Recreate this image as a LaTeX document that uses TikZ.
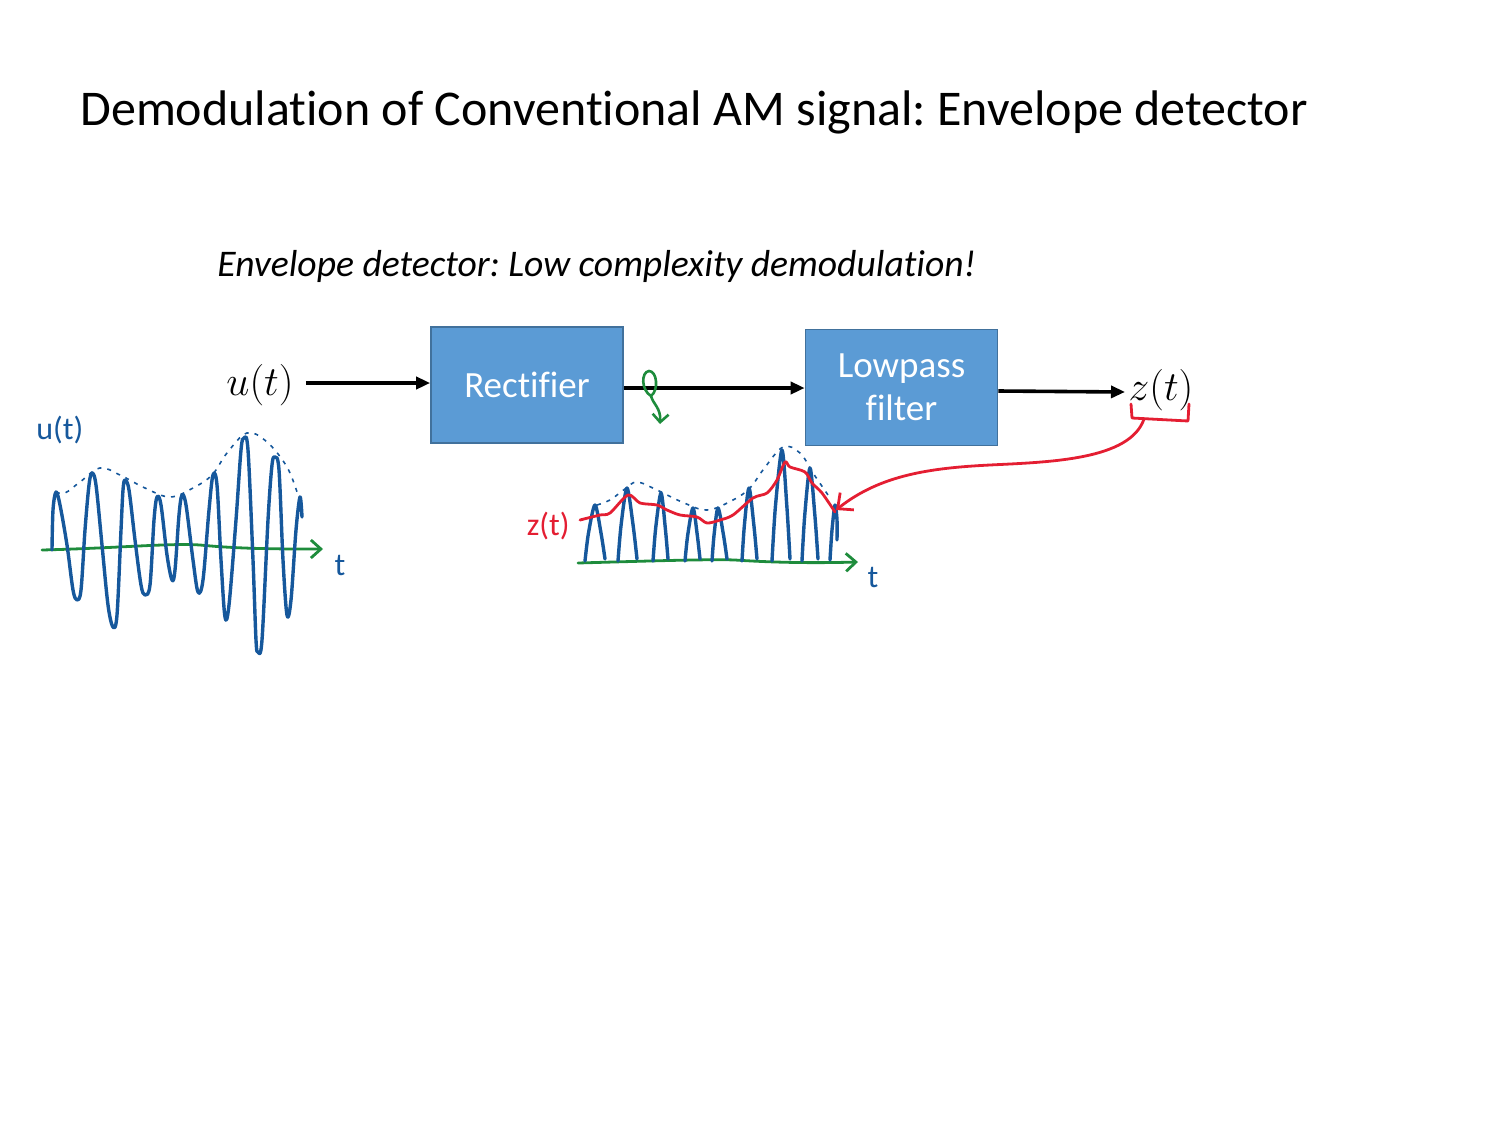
\documentclass[tikz,border=0pt]{standalone}
\usepackage{fontspec}
\setmainfont[Ligatures=CommonOff]{Carlito}
\usetikzlibrary{arrows.meta}
\definecolor{boxfill}{RGB}{91,155,213}
\definecolor{boxline}{RGB}{65,113,156}
\definecolor{wave}{RGB}{22,88,156}
\definecolor{axisg}{RGB}{30,140,60}
\definecolor{penred}{RGB}{228,30,50}
\tikzset{
  blockbox/.style={draw=boxline, line width=0.8pt, fill=boxfill, text=white, minimum width=96pt, minimum height=58pt, inner sep=0pt, align=center, font=\fontsize{18.5}{21.5}\selectfont},
  sigarrow/.style={line width=1.8pt, -{Triangle[length=7pt,width=6pt]}},
  wavepen/.style={wave, line width=1.7pt, line join=round, line cap=round},
  envpen/.style={wave, line width=0.8pt, dash pattern=on 2pt off 3pt},
  axispen/.style={axisg, line width=1.4pt, line cap=round, -{Straight Barb[length=5pt,width=9pt]}},
  redpen/.style={penred, line width=1.4pt, line join=round, line cap=round},
  handtxt/.style={inner sep=0pt, font=\fontsize{16}{18}\selectfont}
}
\begin{document}
\frenchspacing
\begin{tikzpicture}[x=0.5pt,y=-0.5pt]
\useasboundingbox (0,0) rectangle (1500,1125);
% titles
\node[anchor=base west, inner sep=0pt, font=\fontsize{25}{30}\selectfont] (title) at (80,125) {Demodulation of Conventional AM signal: Envelope detector};
\node[anchor=base west, inner sep=0pt, font=\fontsize{18.8}{22}\selectfont\itshape] (sub) at (217,276) {Envelope detector: Low complexity demodulation!};
% blocks
\node[blockbox] (rect) at (527,385) {Rectifier};
\node[blockbox] (lpf) at (901.5,387.5) {Lowpass\\filter};
\node[inner sep=0pt, font=\fontsize{20}{22}\selectfont] (u) at (260,385) {$u(t)$};
\node[inner sep=0pt, font=\fontsize{20}{22}\selectfont] (z) at (1161,390) {$z(t)$};
\draw[sigarrow] (u.east) ++(12,-2) coordinate (ustart) -- (ustart -| rect.west);
\draw[sigarrow] (rect.east |- 0,388) coordinate (rs) -- (rs -| lpf.west);
\draw[sigarrow] (lpf.east |- 0,391) coordinate (ls) -- (1125,392) coordinate (zin);
% green loop marker
\draw[axisg, line width=1.3pt, line cap=round] (651,396) .. controls (641,390) and (641,372) .. (649,371) .. controls (657,371) and (659,390) .. (651,396);
\draw[axisg, line width=1.3pt, line cap=round, -{Straight Barb[length=4pt,width=8pt]}] (651,396) .. controls (653,404) and (661,408) .. (660,424);
% ---------- left waveform u(t)
\node[handtxt, text=wave, anchor=west] (ulab) at (36,430) {u(t)};
\draw[axispen] (42,550) .. controls (120,548) and (170,543) .. (200,545) .. controls (240,549) and (280,549) .. (323,549);
\node[handtxt, text=wave] (tl) at (340,565) {t};
\draw[envpen] plot[smooth, tension=0.6] coordinates {(56,492) (65,493) (80,482) (100,468) (120,475) (145,488) (170,497) (193,488) (212,475) (227,453) (247,433) (267,442) (287,467) (298,495)};
\draw[wavepen] plot[smooth, tension=0.55] coordinates {(52,550) (53,510) (56,492) (60,505) (67,545) (73,590) (77,600) (81,590) (85,530) (89,485) (92,473) (96,485) (102,545) (108,605) (113,627) (117,615) (121,530) (123,490) (125,480) (129,490) (135,540) (141,585) (145,595) (150,585) (154,520) (157,497) (161,505) (167,555) (172,580) (175,570) (179,515) (182,495) (186,505) (193,560) (198,592) (203,580) (209,510) (213,475) (217,485) (221,560) (225,617) (229,605) (236,520) (241,450) (244,438) (248,450) (253,560) (256,640) (258,652) (262,640) (268,520) (272,465) (275,457) (279,470) (283,560) (287,615) (291,600) (296,530) (300,497) (302,517)};
% ---------- right waveform (rectified)
\draw[axispen] (578,563) .. controls (650,561) and (710,559) .. (735,560) .. controls (780,563) and (820,563) .. (858,562);
\node[handtxt, text=wave] (tr) at (873,577) {t};
\draw[envpen] plot[smooth, tension=0.6] coordinates {(597,505) (610,500) (625,489) (637,482) (657,490) (682,502) (707,510) (733,500) (750,488) (763,470) (783,447) (800,453) (813,473) (828,495)};
\foreach \l/\p/\h/\r in {585/595/505/605, 618/627/488/637, 653/661/493/668, 685/693/508/700, 712/718/508/727, 742/749/488/757, 772/782/450/790, 802/810/468/818}{
  \draw[wavepen] plot[smooth, tension=0.5] coordinates {(\l,561) ({\l+0.35*(\p-\l)},{0.5*(561+\h)}) (\p,\h) ({\p+0.6*(\r-\p)},{0.5*(561+\h)}) (\r,559)};
}
\draw[wavepen] plot[smooth, tension=0.5] coordinates {(830,560) (832,530) (835,505) (837,520) (837,540)};
% red envelope z(t)
\draw[redpen] plot[smooth, tension=0.5] coordinates {(580,520) (600,515) (610,513) (628,495) (640,503) (657,505) (667,510) (680,515) (697,517) (707,523) (720,520) (733,515) (753,498) (767,493) (777,480) (785,462) (790,467) (805,472) (812,483) (822,493) (835,512)};
\node[handtxt, text=penred, anchor=east] (zlab) at (570,526) {z(t)};
% red bracket and arrow
\draw[redpen] (1131,404) -- (1132,418) -- (1188,421) -- (1189,404);
\coordinate (brk) at (1144,419);
\draw[redpen, -{Straight Barb[length=6pt,width=11pt]}] (brk) .. controls (1130,460) and (1050,462) .. (990,465) .. controls (930,468) and (880,475) .. (836,510);
\end{tikzpicture}
\end{document}
